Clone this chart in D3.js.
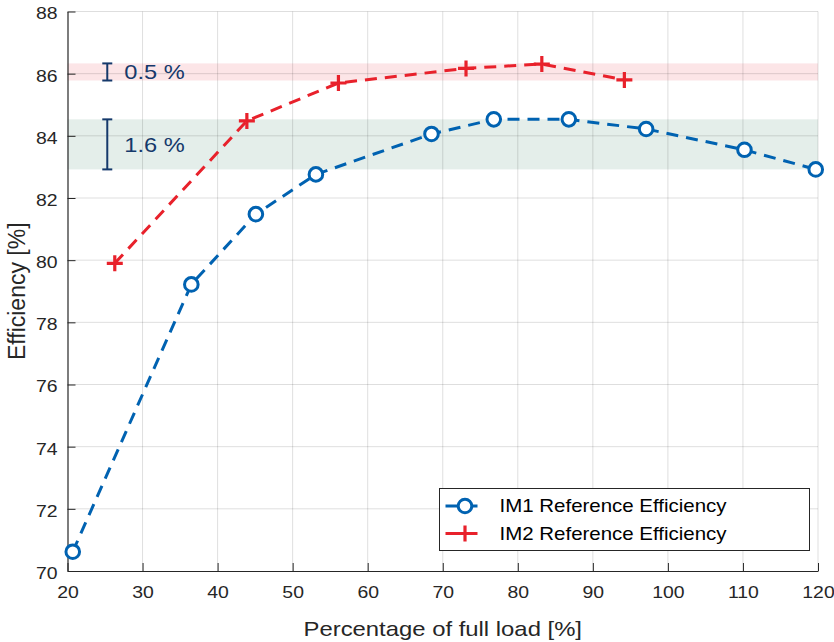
<!DOCTYPE html>
<html>
<head>
<meta charset="utf-8">
<script src="https://cdn.jsdelivr.net/npm/d3@7"></script>
<style>
  html, body { margin: 0; padding: 0; background: #fff; }
  svg { display: block; font-family: "Liberation Sans", Arial, Helvetica, sans-serif; }
</style>
</head>
<body>
<svg id="chart" width="834" height="642"></svg>
<script>
// Load level (% of full load) and efficiency (%) for each motor
const im1Load = [20.7, 36.5, 45.1, 53.1, 68.5, 76.8, 86.8, 97.1, 110.2, 119.7];
const im1Eff  = [70.62, 79.22, 81.48, 82.76, 84.06, 84.53, 84.53, 84.22, 83.55, 82.92];
const im2Load = [26.3, 43.9, 56.1, 73.1, 83.2, 94.2];
const im2Eff  = [79.90, 84.48, 85.70, 86.17, 86.31, 85.80];

// Shaded spread bands and their labels
const bandNames = ["0.5 %", "1.6 %"];
const bandLow   = [85.78, 82.92];
const bandHigh  = [86.33, 84.53];
const bandMarkX = [25.3, 25.3];

const xTicks = [20, 30, 40, 50, 60, 70, 80, 90, 100, 110, 120];
const yTicks = [70, 72, 74, 76, 78, 80, 82, 84, 86, 88];
const seriesNames = ["IM1 Reference Efficiency", "IM2 Reference Efficiency"];

const blue = "#0062b1";
const red = "#e8212b";
const navy = "#15396b";
const ink = "#262626";
const SX = 1.17; // horizontal widening of the lettering

const margin = { left: 67.5, right: 16, top: 11.5, bottom: 71 };
const W = 834, H = 642;
const svg = d3.select("#chart");

const x = d3.scaleLinear().domain([20, 120]).range([margin.left, W - margin.right]);
const y = d3.scaleLinear().domain([70, 88]).range([H - margin.bottom, margin.top]);

// text placed at (px, py), widened horizontally
function label(parent, px, py, txt, size, color, anchor) {
  const g = parent.append("g").attr("transform", `translate(${px},${py}) scale(${SX},1)`);
  return g.append("text").attr("text-anchor", anchor).attr("font-size", size)
    .attr("fill", color).text(txt);
}

// Bands
const bandFill = ["#fce5e7", "#e4eeea"];
svg.append("g").selectAll("rect").data(bandNames).join("rect")
  .attr("x", x(20)).attr("width", x(120) - x(20))
  .attr("y", (d, i) => y(bandHigh[i]))
  .attr("height", (d, i) => y(bandLow[i]) - y(bandHigh[i]))
  .attr("fill", (d, i) => bandFill[i]);

// Grid
const grid = svg.append("g").attr("stroke", "rgba(0,0,0,0.13)").attr("stroke-width", 1);
grid.selectAll("line.gx").data(xTicks.slice(1)).join("line")
  .attr("x1", d => x(d)).attr("x2", d => x(d))
  .attr("y1", y(70)).attr("y2", y(88));
grid.selectAll("line.gy").data(yTicks.slice(1)).join("line")
  .attr("x1", x(20)).attr("x2", x(120))
  .attr("y1", d => y(d)).attr("y2", d => y(d));

// Axes (ticks point inward)
const xAxis = d3.axisBottom(x).tickValues(xTicks).tickSizeInner(-8).tickSizeOuter(0).tickPadding(19);
const yAxis = d3.axisLeft(y).tickValues(yTicks).tickSizeInner(-8).tickSizeOuter(0).tickPadding(10);

const gx = svg.append("g").attr("transform", `translate(0,${y(70)})`).call(xAxis);
const gy = svg.append("g").attr("transform", `translate(${x(20)},0)`).call(yAxis);
[gx, gy].forEach(g => {
  g.select(".domain").attr("stroke", ink).attr("stroke-width", 1.2);
  g.selectAll(".tick line").attr("stroke", ink).attr("stroke-width", 1);
  g.selectAll(".tick text").attr("fill", ink).attr("font-size", 16.6)
    .attr("font-family", "Liberation Sans, Arial, sans-serif")
    .attr("transform", `scale(${SX},1)`);
});
gx.selectAll(".tick text").attr("dy", "0.5em");
gy.selectAll(".tick text").attr("x", -10 / SX).attr("dy", "0.45em");

// Axis titles
label(svg, (x(20) + x(120)) / 2, 636, "Percentage of full load [%]", 20.4, ink, "middle");
svg.append("text")
  .attr("transform", `translate(25,${(y(70) + y(88)) / 2}) rotate(-90)`)
  .attr("text-anchor", "middle").attr("font-size", 23).attr("fill", ink)
  .text("Efficiency [%]");

// Spread markers with labels
const ann = svg.append("g");
bandNames.forEach((name, i) => {
  const cx = x(bandMarkX[i]);
  const y1 = y(bandHigh[i]), y2 = y(bandLow[i]);
  const g = ann.append("g").attr("stroke", navy).attr("stroke-width", 2);
  g.append("line").attr("x1", cx).attr("x2", cx).attr("y1", y1).attr("y2", y2);
  g.append("line").attr("x1", cx - 5).attr("x2", cx + 5).attr("y1", y1).attr("y2", y1);
  g.append("line").attr("x1", cx - 5).attr("x2", cx + 5).attr("y1", y2).attr("y2", y2);
  label(ann, cx + 17, (y1 + y2) / 2, name, 20.2, navy, "start").attr("dy", "0.36em");
});

// Series lines
const line = d3.line().x(d => x(d[0])).y(d => y(d[1]));
const im1 = im1Load.map((v, i) => [v, im1Eff[i]]);
const im2 = im2Load.map((v, i) => [v, im2Eff[i]]);

svg.append("path").datum(im1).attr("d", line).attr("fill", "none")
  .attr("stroke", blue).attr("stroke-width", 3).attr("stroke-dasharray", "12,8");
svg.append("path").datum(im2).attr("d", line).attr("fill", "none")
  .attr("stroke", red).attr("stroke-width", 3).attr("stroke-dasharray", "12,8");

// Markers
function circleMarker(g, cx, cy) {
  g.append("circle").attr("cx", cx).attr("cy", cy).attr("r", 6.8)
    .attr("fill", "#fff").attr("stroke", blue).attr("stroke-width", 3);
}
function plusMarker(g, cx, cy) {
  const s = 8;
  g.append("path").attr("d", `M${cx - s},${cy}H${cx + s}M${cx},${cy - s}V${cy + s}`)
    .attr("stroke", red).attr("stroke-width", 3.2).attr("fill", "none");
}
const mk = svg.append("g");
im1.forEach(d => circleMarker(mk, x(d[0]), y(d[1])));
im2.forEach(d => plusMarker(mk, x(d[0]), y(d[1])));

// Legend
const lg = svg.append("g").attr("transform", "translate(439.5,488.5)");
lg.append("rect").attr("width", 370).attr("height", 62)
  .attr("fill", "#fff").attr("stroke", ink).attr("stroke-width", 1);
const rows = [{ c: blue, m: circleMarker }, { c: red, m: plusMarker }];
rows.forEach((r, i) => {
  const ry = 17.5 + i * 27.5;
  lg.append("line").attr("x1", 6).attr("x2", 45).attr("y1", ry).attr("y2", ry)
    .attr("stroke", r.c).attr("stroke-width", 3).attr("stroke-dasharray", "12,8");
  r.m(lg, 25.5, ry);
  label(lg, 60, ry, seriesNames[i], 17.5, "#000", "start").attr("dy", "0.36em");
});
</script>
</body>
</html>
